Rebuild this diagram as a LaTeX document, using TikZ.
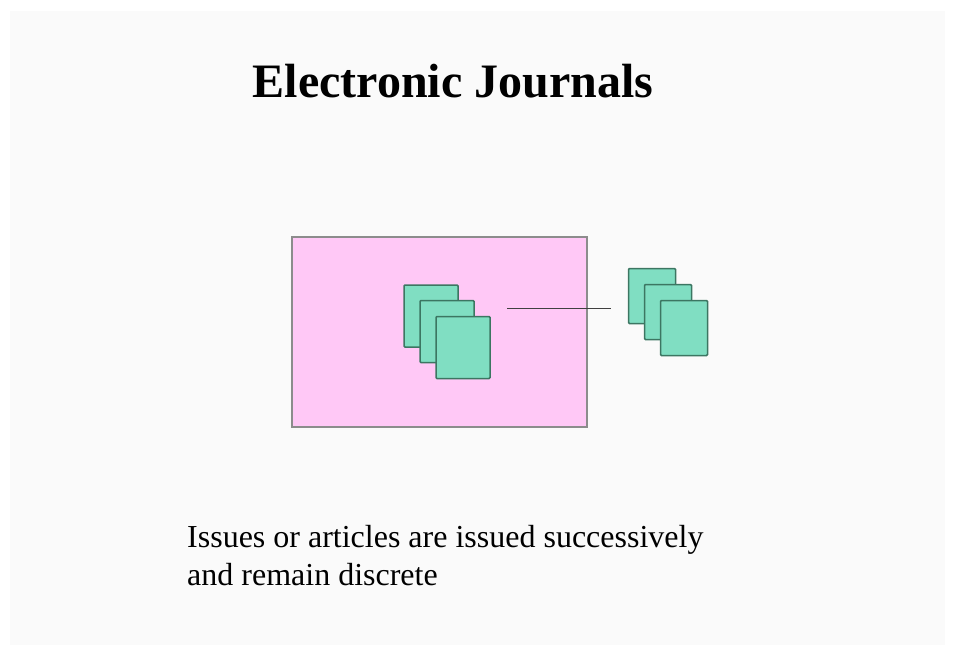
\documentclass[tikz,border=0pt]{standalone}
\usepackage{fontspec}
\setmainfont{Liberation Serif}
\usetikzlibrary{shapes.geometric,arrows}
\definecolor{panelgray}{RGB}{250,250,250}
\definecolor{journalpink}{RGB}{255,200,246}
\definecolor{issuegreen}{RGB}{128,222,194}
\definecolor{issueedge}{RGB}{60,118,98}
\tikzstyle{journal}=[rectangle,minimum width=295pt,minimum height=190pt,draw=black!45,line width=1.5pt,fill=journalpink,inner sep=0pt]
\tikzstyle{issuebig}=[rectangle,rounded corners=1pt,minimum width=54pt,minimum height=62pt,draw=issueedge,line width=1.5pt,fill=issuegreen,inner sep=0pt]
\tikzstyle{issuesmall}=[rectangle,rounded corners=1pt,minimum width=47pt,minimum height=55pt,draw=issueedge,line width=1.5pt,fill=issuegreen,inner sep=0pt]
\tikzstyle{link}=[line width=0.8pt,draw=black!75]

\begin{document}
\begin{tikzpicture}[x=1pt,y=-1pt]
            \useasboundingbox (0,0) rectangle (955,656);
            \fill[panelgray] (10,11) rectangle (945,645);
            \node (title)[anchor=base,font=\fontsize{48}{56}\selectfont\bfseries] at (453,97) {Electronic Journals};
            \node (journal)[journal] at (439.5,332) {};
            \node (issue1)[issuebig] at (431,316) {};
            \node (issue2)[issuebig] at (447,331.5) {};
            \node (issue3)[issuebig] at (463,347.5) {};
            \node (article1)[issuesmall] at (652,296) {};
            \node (article2)[issuesmall] at (668,312) {};
            \node (article3)[issuesmall] at (684,328) {};
            \coordinate (linkstart) at (507,308);
            \coordinate (linkend) at (611,308);
            \draw [link] (linkstart) -- (linkend);
            \node (caption)[anchor=north west,align=left,inner sep=0pt,font=\fontsize{32}{38}\selectfont] at (187,525) {Issues or articles are issued successively\\and remain discrete};
        \end{tikzpicture}
\end{document}
